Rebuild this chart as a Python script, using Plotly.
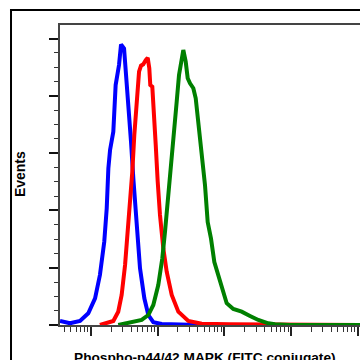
import plotly.graph_objects as go

# Fluorescence intensity (log scale) and event counts per histogram
blue_x = [3.43, 4.84, 6.84, 9.1, 11.5, 13.6, 15.8, 17.2, 18.2, 19.3, 21.6, 23.4, 26.3, 28.2,
          31.3, 33.1, 36.2, 39.8, 43.1, 48.4, 54.3, 63.0, 72.3, 85.9, 114.8, 300, 3000, 108000]
blue_y = [3.5, 1.5, 3.5, 10.2, 23.3, 43.6, 72.7, 101.8, 136.7, 152.7, 168.7, 209.4, 226.9, 244.9,
          241.4, 224.0, 194.9, 159.9, 128.0, 84.4, 49.5, 23.3, 8.7, 2.4, 0.9, 0.3, 0, 0]

red_x = [13.6, 16.2, 21.6, 25.6, 28.8, 32.4, 35.5, 38.4, 41.6, 44.6, 48.4, 52.5, 56.2, 60.8,
         66.1, 70.8, 74.8, 77.4, 83.0, 88.0, 93.4, 100.0, 108.2, 121.3, 136.4, 162.2, 203.7,
         287.6, 457, 1213, 4064, 5740, 108000]
red_y = [0, 1.1, 3.5, 11.6, 26.2, 52.4, 81.4, 107.6, 133.8, 165.8, 194.9, 221.0, 226.3, 227.5,
         231.2, 233.2, 224.0, 209.4, 207.9, 186.1, 157.1, 125.0, 96.0, 66.9, 46.5, 26.2, 11.6,
         3.5, 1.1, 0.6, 0.4, 0, 0]

green_x = [25.6, 40.7, 57.5, 72.3, 85.9, 102, 117.2, 128.6, 141.2, 152.8, 165.5, 177.4, 192.6,
           208.6, 229.0, 242.0, 262.8, 281.6, 305, 342, 371.5, 398, 431, 466.6, 511.7, 561.6,
           629.7, 706.4, 810.8, 911.9, 1082, 1359, 1816, 2420, 3223, 4550, 5740, 9640, 108000]
green_y = [0, 2.4, 4.4, 8.7, 17.5, 34.9, 58.2, 81.4, 107.6, 125.0, 142.5, 171.6, 194.9,
           218.2, 235.6, 240.0, 229.8, 215.3, 210.9, 206.6, 197.8, 180.4, 163.0, 142.5, 122.1, 89.8,
           75.3, 54.9, 43.6, 32.0, 19.0, 14.0, 11.6, 7.9, 4.4, 1.5, 0.6, 0, 0]

x_title = "Phospho-p44/42 MAPK (FITC conjugate)"
y_title = "Events"

fig = go.Figure()
for xs, ys, col in [(blue_x, blue_y, "#0000FF"), (red_x, red_y, "#FF0000"), (green_x, green_y, "#008000")]:
    fig.add_trace(go.Scatter(x=xs, y=ys, mode="lines", line=dict(color=col, width=4),
                             showlegend=False, hoverinfo="skip"))

fig.update_layout(
    width=360, height=360,
    margin=dict(l=60, r=0, t=25, b=35),
    paper_bgcolor="white", plot_bgcolor="white",
    font=dict(family="Liberation Sans, Arial, sans-serif", color="black"),
    xaxis=dict(type="log", range=[0.535, 5.033], showgrid=False, zeroline=False,
               showline=True, linecolor="#444", linewidth=1.5, mirror=True,
               ticks="outside", ticklen=9, tickwidth=1.5, tickcolor="#222",
               dtick=1, tick0=0, showticklabels=False,
               minor=dict(ticks="outside", ticklen=5, tickwidth=1, tickcolor="#333", dtick="D1",
                          showgrid=False)),
    yaxis=dict(range=[0, 261.8], showgrid=False, zeroline=False,
               showline=True, linecolor="#444", linewidth=1.5, mirror=False,
               ticks="outside", ticklen=9, tickwidth=2, tickcolor="#111",
               dtick=50, tick0=0, showticklabels=False,
               minor=dict(ticks="outside", ticklen=4, tickwidth=1, tickcolor="#333", dtick=12.5,
                          showgrid=False)),
    shapes=[
        dict(type="line", xref="paper", yref="paper", x0=-0.1667, x1=1.03, y0=1.05, y1=1.05,
             line=dict(color="black", width=2)),
        dict(type="line", xref="paper", yref="paper", x0=-0.1633, x1=-0.1633, y0=1.05, y1=-0.15,
             line=dict(color="black", width=2)),
    ],
    annotations=[
        dict(text="<b>" + y_title + "</b>", xref="paper", yref="paper", x=-0.1333, y=0.503,
             textangle=-90, showarrow=False, font=dict(size=14), xanchor="center", yanchor="middle"),
        dict(text="<b>" + x_title + "</b>", xref="paper", yref="paper", x=0.4817, y=-0.077,
             showarrow=False, font=dict(size=13.7), xanchor="center", yanchor="top"),
    ],
)

fig.write_html(
    "out.html",
    config={"displayModeBar": False},
    post_script="document.body.style.margin='0';document.documentElement.style.overflow='hidden';",
)
